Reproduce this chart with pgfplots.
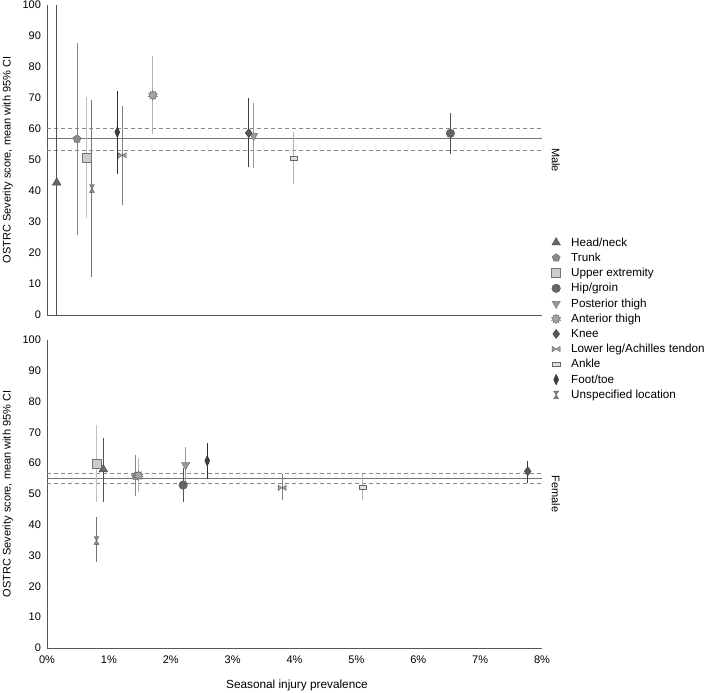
\documentclass[border=0pt]{standalone}
\usepackage{fontspec}
\setmainfont{Liberation Sans}
\usepackage{pgfplots}
\pgfplotsset{compat=1.18}
\usetikzlibrary{plotmarks}

\definecolor{axc}{HTML}{555555}
\definecolor{meanc}{HTML}{777777}
\definecolor{dashc}{HTML}{888888}

\pgfdeclareplotmark{bowtie}{%
 \pgfpathmoveto{\pgfpoint{-\pgfplotmarksize}{0.65\pgfplotmarksize}}%
 \pgfpathlineto{\pgfpoint{\pgfplotmarksize}{-0.65\pgfplotmarksize}}%
 \pgfpathlineto{\pgfpoint{\pgfplotmarksize}{0.65\pgfplotmarksize}}%
 \pgfpathlineto{\pgfpoint{-\pgfplotmarksize}{-0.65\pgfplotmarksize}}%
 \pgfpathclose\pgfusepathqfillstroke}
\pgfdeclareplotmark{hourglass}{%
 \pgfpathmoveto{\pgfpoint{-0.65\pgfplotmarksize}{\pgfplotmarksize}}%
 \pgfpathlineto{\pgfpoint{0.65\pgfplotmarksize}{\pgfplotmarksize}}%
 \pgfpathlineto{\pgfpoint{-0.65\pgfplotmarksize}{-\pgfplotmarksize}}%
 \pgfpathlineto{\pgfpoint{0.65\pgfplotmarksize}{-\pgfplotmarksize}}%
 \pgfpathclose\pgfusepathqfillstroke}
\pgfdeclareplotmark{flatrect}{%
 \pgfpathrectangle{\pgfpoint{-\pgfplotmarksize}{-0.5\pgfplotmarksize}}{\pgfpoint{2\pgfplotmarksize}{\pgfplotmarksize}}%
 \pgfusepathqfillstroke}
\pgfdeclareplotmark{thindiamond}{%
 \pgfpathmoveto{\pgfpoint{0pt}{1.4\pgfplotmarksize}}%
 \pgfpathlineto{\pgfpoint{0.65\pgfplotmarksize}{0pt}}%
 \pgfpathlineto{\pgfpoint{0pt}{-1.4\pgfplotmarksize}}%
 \pgfpathlineto{\pgfpoint{-0.65\pgfplotmarksize}{0pt}}%
 \pgfpathclose\pgfusepathqfillstroke}
\pgfdeclareplotmark{burst}{%
 \pgfpathmoveto{\pgfpointpolar{90}{\pgfplotmarksize}}%
 \foreach \k in {1,...,19}{%
   \pgfmathsetmacro{\ang}{90+18*\k}%
   \ifodd\k
     \pgfpathlineto{\pgfpointpolar{\ang}{0.6\pgfplotmarksize}}%
   \else
     \pgfpathlineto{\pgfpointpolar{\ang}{\pgfplotmarksize}}%
   \fi}%
 \pgfpathclose\pgfusepathqfillstroke}

\pgfplotsset{
 myax/.style={scale only axis, width=495pt, xmin=0, xmax=8, ymin=0, ymax=100,
  axis x line*=bottom, axis y line*=left,
  axis line style={-, draw=axc, line width=0.8pt},
  major tick length=0pt, ytick={0,10,...,100}, xtick={0,...,8},
  tick label style={font=\fontsize{11}{13}\selectfont},
  yticklabel style={xshift=-2.5pt},
  xticklabel style={yshift=-4pt},
  /pgf/number format/assume math mode=true,
  ylabel={OSTRC Severity score, mean with 95\% CI},
  ylabel style={at={(axis description cs:-0.079,0.5)}, anchor=center, font=\fontsize{11}{13}\selectfont},
  clip=false,
  error bars/y dir=both, error bars/y explicit, error bars/error mark=none},
 cHead/.style={only marks, mark=triangle*, mark size=5pt, mark options={fill=black!60, draw=black!70, solid},
  error bars/error bar style={draw=black!68, line width=1pt}},
 cTrunk/.style={only marks, mark=pentagon*, mark size=4.2pt, mark options={fill=black!45, draw=black!55, solid},
  error bars/error bar style={draw=black!47, line width=1pt}},
 cUpper/.style={only marks, mark=square*, mark size=4.5pt, mark options={fill=black!20, draw=black!55, solid},
  error bars/error bar style={draw=black!25, line width=1pt}},
 cHip/.style={only marks, mark=*, mark size=4.3pt, mark options={fill=black!60, draw=black!65, solid},
  error bars/error bar style={draw=black!68, line width=1pt}},
 cPost/.style={only marks, mark=triangle*, mark size=4.8pt, mark options={rotate=180, fill=black!40, draw=black!55, solid},
  error bars/error bar style={draw=black!40, line width=1pt}},
 cAnt/.style={only marks, mark=burst, mark size=4.8pt, mark options={fill=black!35, draw=black!60, solid},
  error bars/error bar style={draw=black!30, line width=1pt}},
 cKnee/.style={only marks, mark=diamond*, mark size=4.5pt, mark options={fill=black!65, draw=black!80, solid},
  error bars/error bar style={draw=black!75, line width=1pt}},
 cLower/.style={only marks, mark=bowtie, mark size=4pt, mark options={fill=black!35, draw=black!65, solid},
  error bars/error bar style={draw=black!50, line width=1pt}},
 cAnkle/.style={only marks, mark=flatrect, mark size=3.8pt, mark options={fill=black!12, draw=black!60, solid},
  error bars/error bar style={draw=black!30, line width=1pt}},
 cFoot/.style={only marks, mark=thindiamond, mark size=3.8pt, mark options={fill=black!75, draw=black!85, solid},
  error bars/error bar style={draw=black!82, line width=1pt}},
 cUnsp/.style={only marks, mark=hourglass, mark size=3.8pt, mark options={fill=black!45, draw=black!65, solid},
  error bars/error bar style={draw=black!55, line width=1pt}},
}

\begin{document}
\begin{tikzpicture}
\useasboundingbox (0,0) rectangle (708pt,-692pt);

% ---------------- Male ----------------
\begin{axis}[myax, at={(47pt,-315pt)}, anchor=south west, height=310pt,
  xticklabels={},
  legend style={at={(axis description cs:1.019,0.257)}, anchor=north west, draw=none, fill=none,
    font=\fontsize{11.7}{13}\selectfont, row sep=1.3pt, column sep=8.5pt, inner sep=0pt},
  legend cell align=left]
\addplot[forget plot, draw=meanc, line width=1pt] coordinates {(0,56.8) (8,56.8)};
\addplot[forget plot, draw=dashc, line width=1pt, dash pattern=on 4pt off 3pt] coordinates {(0,60.3) (8,60.3)};
\addplot[forget plot, draw=dashc, line width=1pt, dash pattern=on 4pt off 3pt] coordinates {(0,53.1) (8,53.1)};

\addplot[cHead]  coordinates {(0.157,42.7) += (0,57.3) -= (0,42.7)};
\addlegendentry{Head/neck}
\addplot[cTrunk] coordinates {(0.485,56.8) += (0,30.8) -= (0,30.9)};
\addlegendentry{Trunk}
\addplot[cUpper] coordinates {(0.646,50.8) += (0,19.5) -= (0,19.5)};
\addlegendentry{Upper extremity}
\addplot[cHip]   coordinates {(6.52,58.6) += (0,6.6) -= (0,6.8)};
\addlegendentry{Hip/groin}
\addplot[cPost]  coordinates {(3.34,57.8) += (0,10.6) -= (0,10.5)};
\addlegendentry{Posterior thigh}
\addplot[cAnt]   coordinates {(1.71,70.9) += (0,12.7) -= (0,12.5)};
\addlegendentry{Anterior thigh}
\addplot[cKnee]  coordinates {(3.26,58.7) += (0,11.2) -= (0,10.9)};
\addlegendentry{Knee}
\addplot[cLower] coordinates {(1.216,51.5) += (0,16.0) -= (0,15.9)};
\addlegendentry{Lower leg/Achilles tendon}
\addplot[cAnkle] coordinates {(3.99,50.7) += (0,8.3) -= (0,8.5)};
\addlegendentry{Ankle}
\addplot[cFoot]  coordinates {(1.136,59.0) += (0,13.3) -= (0,13.4)};
\addlegendentry{Foot/toe}
\addplot[cUnsp]  coordinates {(0.727,40.8) += (0,28.6) -= (0,28.5)};
\addlegendentry{Unspecified location}

\node[rotate=-90, font=\fontsize{11}{13}\selectfont] at (axis description cs:1.028,0.5) {Male};
\end{axis}

% ---------------- Female ----------------
\begin{axis}[myax, at={(47pt,-648pt)}, anchor=south west, height=308pt,
  xticklabels={0\%,1\%,2\%,3\%,4\%,5\%,6\%,7\%,8\%},
  xlabel={Seasonal injury prevalence},
  xlabel style={at={(axis description cs:0.505,-0.12)}, anchor=center, font=\fontsize{11.8}{13}\selectfont}]
\addplot[forget plot, draw=meanc, line width=1pt] coordinates {(0,55.1) (8,55.1)};
\addplot[forget plot, draw=dashc, line width=1pt, dash pattern=on 4pt off 3pt] coordinates {(0,56.8) (8,56.8)};
\addplot[forget plot, draw=dashc, line width=1pt, dash pattern=on 4pt off 3pt] coordinates {(0,53.4) (8,53.4)};

\addplot[cHead]  coordinates {(0.91,58.0) += (0,10.2) -= (0,10.7)};
\addplot[cTrunk] coordinates {(1.43,55.8) += (0,7.0) -= (0,6.6)};
\addplot[cUpper] coordinates {(0.80,59.9) += (0,12.6) -= (0,12.6)};
\addplot[cHip]   coordinates {(2.20,52.9) += (0,5.6) -= (0,5.6)};
\addplot[cPost]  coordinates {(2.24,59.4) += (0,6.0) -= (0,6.4)};
\addplot[cAnt]   coordinates {(1.48,56.0) += (0,5.7) -= (0,5.5)};
\addplot[cKnee]  coordinates {(7.77,57.4) += (0,3.4) -= (0,3.8)};
\addplot[cLower] coordinates {(3.80,52.0) += (0,4.5) -= (0,4.0)};
\addplot[cAnkle] coordinates {(5.10,52.3) += (0,4.2) -= (0,4.1)};
\addplot[cFoot]  coordinates {(2.59,60.8) += (0,5.9) -= (0,6.0)};
\addplot[cUnsp]  coordinates {(0.80,34.9) += (0,7.5) -= (0,7.1)};

\node[rotate=-90, font=\fontsize{11}{13}\selectfont] at (axis description cs:1.028,0.5) {Female};
\end{axis}
\end{tikzpicture}
\end{document}
